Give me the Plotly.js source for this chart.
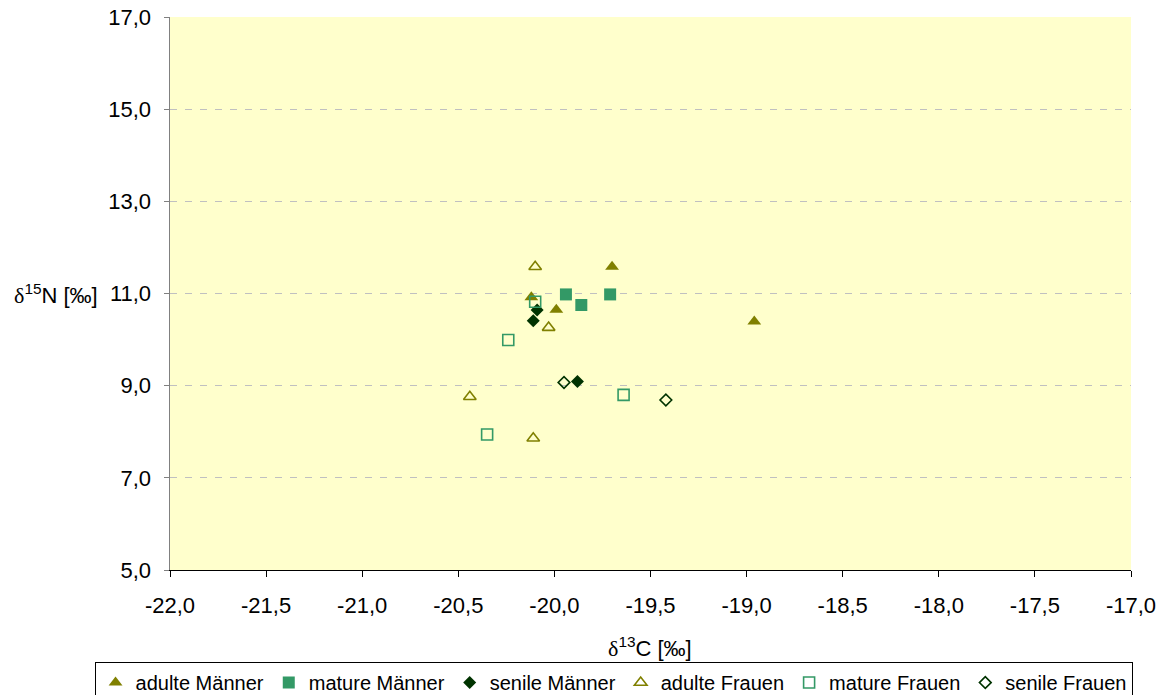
<!DOCTYPE html>
<html>
<head>
<meta charset="utf-8">
<script src="https://cdn.plot.ly/plotly-3.0.1.min.js"></script>
<style>html,body{margin:0;padding:0;background:#fff;} #chart{width:1162px;height:695px;}</style>
</head>
<body>
<div id="chart"></div>
<script>
// δ13C (x) and δ15N (y) values per group
const seriesNames = ["adulte Männer", "mature Männer", "senile Männer", "adulte Frauen", "mature Frauen", "senile Frauen"];
const adulteMaennerX = [-19.70, -18.96, -20.12, -19.99];
const adulteMaennerY = [11.58, 10.39, 10.92, 10.65];
const matureMaennerX = [-19.94, -19.86, -19.71];
const matureMaennerY = [10.98, 10.75, 10.98];
const senileMaennerX = [-20.09, -20.11, -19.88];
const senileMaennerY = [10.64, 10.41, 9.09];
const adulteFrauenX = [-20.10, -20.03, -20.44, -20.11];
const adulteFrauenY = [11.58, 10.26, 8.76, 7.86];
const matureFrauenX = [-20.10, -20.24, -19.64, -20.35];
const matureFrauenY = [10.82, 9.99, 8.80, 7.94];
const senileFrauenX = [-19.95, -19.42];
const senileFrauenY = [9.07, 8.69];

// axis ticks
const xTickVals = [-22, -21.5, -21, -20.5, -20, -19.5, -19, -18.5, -18, -17.5, -17];
const xTickText = ["-22,0", "-21,5", "-21,0", "-20,5", "-20,0", "-19,5", "-19,0", "-18,5", "-18,0", "-17,5", "-17,0"];
const yTickVals = [5, 7, 9, 11, 13, 15, 17];
const yTickText = ["5,0", "7,0", "9,0", "11,0", "13,0", "15,0", "17,0"];

const olive = "#808000", green = "#339966", dark = "#003300";
const F = "Liberation Sans, Arial, sans-serif";

const traces = [
  {x: adulteMaennerX, y: adulteMaennerY, name: seriesNames[0],
   marker: {symbol: "triangle-up", size: 12, color: olive, line: {width: 0}}},
  {x: matureMaennerX, y: matureMaennerY, name: seriesNames[1],
   marker: {symbol: "square", size: 12, color: green, line: {width: 0}}},
  {x: senileMaennerX, y: senileMaennerY, name: seriesNames[2],
   marker: {symbol: "diamond", size: 10, color: dark, line: {width: 0}}},
  {x: adulteFrauenX, y: adulteFrauenY, name: seriesNames[3],
   marker: {symbol: "triangle-up-open", size: 11, color: olive, line: {width: 1.6, color: olive}}},
  {x: matureFrauenX, y: matureFrauenY, name: seriesNames[4],
   marker: {symbol: "square-open", size: 11, color: green, line: {width: 1.6, color: green}}},
  {x: senileFrauenX, y: senileFrauenY, name: seriesNames[5],
   marker: {symbol: "diamond-open", size: 9, color: dark, line: {width: 1.6, color: dark}}}
].map(t => Object.assign({type: "scatter", mode: "markers", hoverinfo: "x+y"}, t));

const layout = {
  width: 1162, height: 695,
  margin: {l: 169.5, r: 31.3, t: 17.3, b: 125, autoexpand: false},
  paper_bgcolor: "#ffffff",
  plot_bgcolor: "#ffffcc",
  font: {family: F, size: 22, color: "#000"},
  showlegend: true,
  legend: {
    orientation: "h", xref: "paper", yref: "paper",
    x: -0.0785, xanchor: "left", y: -0.1665, yanchor: "top",
    bordercolor: "#000", borderwidth: 1, bgcolor: "#fff",
    font: {family: F, size: 20, color: "#000"},
    itemwidth: 30, traceorder: "normal"
  },
  xaxis: {
    range: [-22, -17], tickmode: "array", tickvals: xTickVals, ticktext: xTickText,
    showgrid: false, zeroline: false,
    showline: true, linecolor: "#000", linewidth: 1,
    ticks: "outside", ticklen: 6, tickcolor: "#000",
    tickfont: {family: F, size: 22}, ticklabelstandoff: 10
  },
  yaxis: {
    range: [5, 17], tickmode: "array", tickvals: yTickVals, ticktext: yTickText,
    showgrid: true, gridcolor: "#c0c0c0", griddash: "7px,8px", gridwidth: 1,
    zeroline: false,
    showline: true, linecolor: "#808080", linewidth: 1.5,
    ticks: "outside", ticklen: 5, tickcolor: "#808080",
    tickfont: {family: F, size: 22}, ticklabelstandoff: 8
  },
  annotations: [
    {text: '<span style="font-family:Liberation Serif">δ</span><sup>15</sup>N [‰]',
     xref: "paper", yref: "y", x: -0.0733, y: 11, xanchor: "right", yanchor: "middle",
     showarrow: false, font: {family: F, size: 22}},
    {text: '<span style="font-family:Liberation Serif">δ</span><sup>13</sup>C [‰]',
     xref: "paper", yref: "paper", x: 0.499, y: -0.1393, xanchor: "center", yanchor: "middle",
     showarrow: false, font: {family: F, size: 22}}
  ]
};

Plotly.newPlot("chart", traces, layout, {displayModeBar: false, staticPlot: true});
</script>
</body>
</html>
